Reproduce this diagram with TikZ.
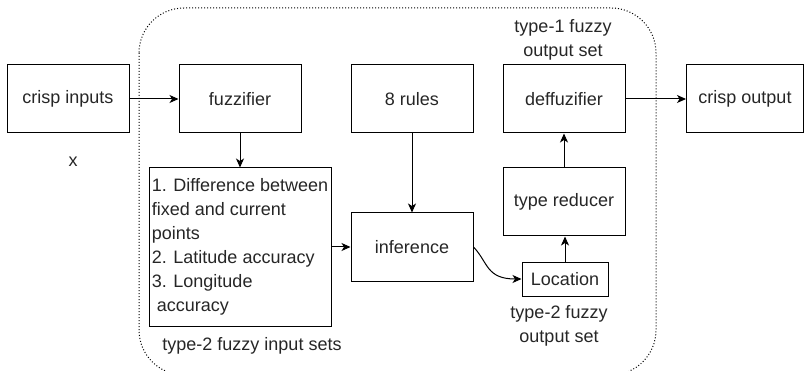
\documentclass[tikz,border=0pt]{standalone}
\usepackage{fontspec}
\setmainfont{Liberation Sans}
\usetikzlibrary{arrows.meta}
\begin{document}
\begin{tikzpicture}[x=1pt,y=-1pt,
  box/.style={draw=black,line width=1pt,minimum width=122pt,minimum height=68pt,inner sep=0pt,font=\fontsize{18}{24}\selectfont,text=black!85},
  lbl/.style={font=\fontsize{18}{23.5}\selectfont,text=black!85,align=center,inner sep=0pt},
  arr/.style={line width=1pt,-{Stealth[length=9pt,width=8pt,inset=2.5pt]}}]
\useasboundingbox (0,0) rectangle (805,371);
\draw[line width=1pt,dotted,rounded corners=45pt] (139,8) rectangle (656,375);
\node[box] (cin) at (68,99) {crisp inputs};
\node[box] (fuz) at (240,99) {fuzzifier};
\node[box] (rules) at (412,99) {8 rules};
\node[box] (def) at (564,99) {deffuzifier};
\node[box,minimum width=117pt] (cout) at (745,99) {crisp output};
\node[box,minimum width=182pt,minimum height=158pt,align=left] (list) at (240,247) {1. Difference between\\fixed and current\\points\\2. Latitude accuracy\\3. Longitude\\\ accuracy};
\node[box] (inf) at (412,247) {inference};
\node[box] (tr) at (564,202) {type reducer};
\node[box,minimum width=86pt,minimum height=34pt] (loc) at (565,279) {Location};
\node[lbl] (xl) at (73,162) {x};
\node[lbl] (t1) at (563,40) {type-1 fuzzy\\output set};
\node[lbl] (t2o) at (559,326) {type-2 fuzzy\\output set};
\node[lbl] (t2i) at (252,346) {type-2 fuzzy input sets};
\draw[arr] (cin) -- (fuz);
\draw[arr] (fuz) -- (list);
\draw[arr] (rules) -- (inf);
\draw[arr] (list.east |- inf) -- (inf);
\draw[arr] (inf.east) .. controls (488,262) and (486,279) .. (loc.west);
\draw[arr] (loc) -- (loc |- tr.south);
\draw[arr] (tr) -- (def);
\draw[arr] (def) -- (cout);
\end{tikzpicture}
\end{document}
